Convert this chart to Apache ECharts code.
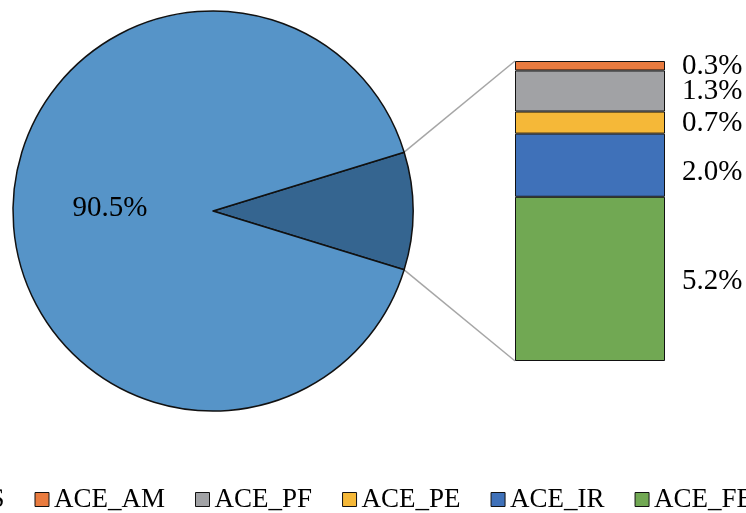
<!DOCTYPE html>
<html>
<head>
<meta charset="utf-8">
<script src="https://cdn.jsdelivr.net/npm/echarts@6/dist/echarts.min.js"></script>
<style>
  html, body { margin: 0; padding: 0; background: #fff; }
  #chart { width: 746px; height: 513px; }
</style>
</head>
<body>
<div id="chart"></div>
<script>
// Main share drawn as the large pie slice
const mainName = 'ACE_ES';
const mainValue = 90.5;
const restName = 'Others';

// Breakdown of the small slice, stacked bottom to top
const barNames = ['ACE_FE', 'ACE_IR', 'ACE_PE', 'ACE_PF', 'ACE_AM'];
const barValues = [5.2, 2.0, 0.7, 1.3, 0.3];

// Legend order
const legendNames = ['ACE_ES', 'ACE_AM', 'ACE_PF', 'ACE_PE', 'ACE_IR', 'ACE_FE'];

const colors = {
  'ACE_ES': '#5694c8',
  'Others': '#356590',
  'ACE_AM': '#e97b3f',
  'ACE_PF': '#a1a2a5',
  'ACE_PE': '#f5b838',
  'ACE_IR': '#3f71b9',
  'ACE_FE': '#71a853'
};

// small vertical nudges for the value labels beside the bar
const labelShift = { 'ACE_FE': 2, 'ACE_IR': 7, 'ACE_PE': 1, 'ACE_PF': 0, 'ACE_AM': 1 };

const FONT = "'Liberation Serif', 'Times New Roman', serif";
const restValue = Math.round(barValues.reduce((a, b) => a + b, 0) * 10) / 10;
const total = mainValue + restValue;
const halfAngleDeg = restValue / total * 180;

const pieCenter = [213, 211];
const pieRadius = 200;

const chart = echarts.init(document.getElementById('chart'), null, { renderer: 'canvas' });

const series = [{
  type: 'pie',
  center: pieCenter,
  radius: pieRadius,
  startAngle: halfAngleDeg,
  clockwise: true,
  silent: true,
  label: { show: false },
  labelLine: { show: false },
  itemStyle: { borderColor: '#111', borderWidth: 1.5 },
  data: [
    { name: restName, value: restValue, itemStyle: { color: colors[restName] } },
    {
      name: mainName, value: mainValue, itemStyle: { color: colors[mainName] },
      label: {
        show: true, position: 'inside', color: '#000',
        fontFamily: FONT, fontSize: 29, offset: [0, -3],
        formatter: p => p.value.toFixed(1) + '%'
      }
    }
  ]
}];

barNames.forEach((name, i) => {
  series.push({
    type: 'bar',
    name: name,
    stack: 'detail',
    barWidth: '100%',
    silent: true,
    itemStyle: { color: colors[name], borderColor: '#111', borderWidth: 1 },
    label: {
      show: true, position: 'right', distance: 17, color: '#000',
      fontFamily: FONT, fontSize: 29, offset: [0, labelShift[name]],
      formatter: p => p.value.toFixed(1) + '%'
    },
    data: [barValues[i]]
  });
});

chart.setOption({
  animation: false,
  backgroundColor: '#fff',
  textStyle: { fontFamily: FONT },
  legend: {
    data: legendNames,
    left: -119,
    top: 481,
    width: 1400,
    itemGap: 30,
    itemWidth: 14,
    itemHeight: 14,
    icon: 'rect',
    itemStyle: { borderColor: '#111', borderWidth: 1 },
    textStyle: { fontFamily: FONT, fontSize: 27, color: '#000' },
    selectedMode: false
  },
  grid: { left: 515, top: 61, width: 150, height: 300 },
  xAxis: { type: 'category', data: ['detail'], show: false },
  yAxis: { type: 'value', min: 0, max: restValue, show: false },
  series: series
});

// Connector lines from the small slice edges to the bar corners
const half = halfAngleDeg * Math.PI / 180;
const upper = [pieCenter[0] + pieRadius * Math.cos(half), pieCenter[1] - pieRadius * Math.sin(half)];
const lower = [pieCenter[0] + pieRadius * Math.cos(half), pieCenter[1] + pieRadius * Math.sin(half)];
const gridRect = chart.getModel().getComponent('grid').coordinateSystem.getRect();
const barTop = chart.convertToPixel({ yAxisIndex: 0 }, restValue);
const barBottom = chart.convertToPixel({ yAxisIndex: 0 }, 0);

chart.setOption({
  graphic: [
    { type: 'line', z: -1, silent: true,
      shape: { x1: upper[0], y1: upper[1], x2: gridRect.x, y2: barTop },
      style: { stroke: '#a6a6a6', lineWidth: 1.5 } },
    { type: 'line', z: -1, silent: true,
      shape: { x1: lower[0], y1: lower[1], x2: gridRect.x, y2: barBottom },
      style: { stroke: '#a6a6a6', lineWidth: 1.5 } }
  ]
});
</script>
</body>
</html>
